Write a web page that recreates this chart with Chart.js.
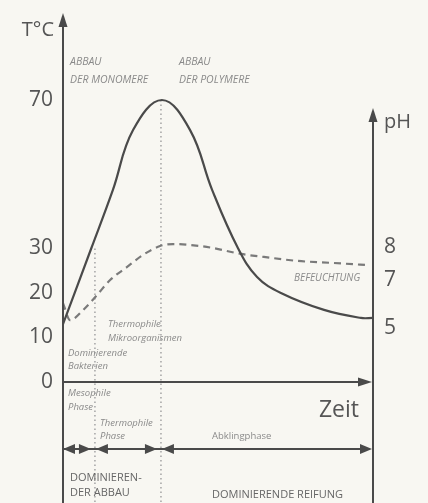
<!DOCTYPE html>
<html>
<head>
<meta charset="utf-8">
<script src="https://cdn.jsdelivr.net/npm/chart.js@4"></script>
<style>
  html, body { margin: 0; padding: 0; background: #f8f7f2; }
  #wrap { width: 428px; height: 503px; }
</style>
</head>
<body>
<div id="wrap"><canvas id="kompost" width="428" height="503"></canvas></div>
<script>
// Zeit (0..100, beliebige Einheit) und Temperatur in °C
const zeitT = [0, 9.1, 16.1, 22.6, 31.9, 41.0, 48.1, 56.5, 62.6, 70.3, 84.2, 96.1, 100];
const temperatur = [13, 30, 45.8, 61.9, 70, 61.9, 45.8, 30, 23.6, 20, 16.2, 14.4, 14.4];

// Zeit und pH-Wert (gestrichelt)
const zeitPH = [0, 2.3, 6.5, 11.0, 15.2, 20.6, 25.8, 31.3, 35.5, 44.2, 48.4, 57.4, 64.8, 75.5, 86.5, 98.7];
const phWert = [6.04, 5.33, 5.75, 6.38, 7.0, 7.39, 7.76, 8.03, 8.09, 8.03, 7.97, 7.79, 7.70, 7.58, 7.52, 7.45];

// Achsenbeschriftungen
const tempTicks = [0, 10, 20, 30, 70];
const phTicks = [5, 7, 8];

// Phasengrenzen auf der Zeitachse (Start, Mesophil/Thermophil, Thermophil/Abkling, Ende)
const phasenGrenzen = [0, 10.3, 31.6, 100];
const grenzenOben = [30, 70]; // bis wohin die gepunkteten Linien reichen (°C)

// Die Skalen sind im Original nicht linear: Stützstellen [Wert, Anteil der Höhe]
const skalenStuetzen = {
  yT: [[0, 0.2469], [30, 0.5194], [70, 0.8224]],
  yPH: [[5, 0.3571], [7, 0.4551], [8, 0.5224]]
};

class PiecewiseScale extends Chart.LinearScale {
  toDecimal(v) {
    const s = skalenStuetzen[this.id];
    let i = 0;
    while (i < s.length - 2 && v > s[i + 1][0]) i++;
    const a = s[i], b = s[i + 1];
    return a[1] + (v - a[0]) * (b[1] - a[1]) / (b[0] - a[0]);
  }
  getPixelForValue(v) {
    return this.getPixelForDecimal(this.toDecimal(v));
  }
  getValueForPixel(p) {
    const d = this.getDecimalForPixel(p);
    const s = skalenStuetzen[this.id];
    let i = 0;
    while (i < s.length - 2 && d > s[i + 1][1]) i++;
    const a = s[i], b = s[i + 1];
    return a[0] + (d - a[1]) * (b[0] - a[0]) / (b[1] - a[1]);
  }
}
PiecewiseScale.id = 'piecewise';
PiecewiseScale.defaults = Chart.LinearScale.defaults;
Chart.register(PiecewiseScale);

const LINIE = '#4a4a4a';
const TEXT = '#555555';
const KLEIN = '#8a8a8a';
const FONT = '"Open Sans", "Noto Sans", sans-serif';

function pfeil(ctx, x, y, richtung, len, halb) {
  ctx.beginPath();
  if (richtung === 'up') {
    ctx.moveTo(x, y); ctx.lineTo(x - halb, y + len); ctx.lineTo(x + halb, y + len);
  } else if (richtung === 'right') {
    ctx.moveTo(x, y); ctx.lineTo(x - len, y - halb); ctx.lineTo(x - len, y + halb);
  } else {
    ctx.moveTo(x, y); ctx.lineTo(x + len, y - halb); ctx.lineTo(x + len, y + halb);
  }
  ctx.closePath();
  ctx.fill();
}

function text(ctx, t, x, y, font, color, align) {
  ctx.font = font;
  ctx.fillStyle = color;
  ctx.textAlign = align || 'left';
  ctx.textBaseline = 'middle';
  ctx.fillText(t, x, y);
}

const achsenPlugin = {
  id: 'achsen',
  beforeDatasetsDraw(chart) {
    const ctx = chart.ctx;
    const xs = chart.scales.x, yT = chart.scales.yT;
    const unten = chart.chartArea.bottom;
    ctx.save();
    ctx.strokeStyle = '#a9a9a9';
    ctx.lineWidth = 1.6;
    ctx.setLineDash([1.5, 3]);
    for (let i = 1; i < phasenGrenzen.length - 1; i++) {
      const px = xs.getPixelForValue(phasenGrenzen[i]);
      ctx.beginPath();
      ctx.moveTo(px, yT.getPixelForValue(grenzenOben[i - 1]));
      ctx.lineTo(px, unten);
      ctx.stroke();
    }
    ctx.restore();
  },
  afterDatasetsDraw(chart) {
    const ctx = chart.ctx;
    const xs = chart.scales.x, yT = chart.scales.yT, yPH = chart.scales.yPH;
    const { left, right, top, bottom } = chart.chartArea;
    const null0 = yT.getPixelForValue(0);
    const phasenY = null0 + 67;
    ctx.save();
    ctx.strokeStyle = LINIE;
    ctx.fillStyle = LINIE;
    ctx.lineWidth = 2;

    // linke Achse (Temperatur)
    ctx.beginPath(); ctx.moveTo(left, top + 8); ctx.lineTo(left, bottom); ctx.stroke();
    pfeil(ctx, left, top, 'up', 14, 4.5);
    // rechte Achse (pH)
    const phTop = 108;
    ctx.beginPath(); ctx.moveTo(right, phTop + 8); ctx.lineTo(right, bottom); ctx.stroke();
    pfeil(ctx, right, phTop, 'up', 14, 4.5);
    // Zeitachse
    ctx.lineWidth = 1.8;
    ctx.beginPath(); ctx.moveTo(left, null0); ctx.lineTo(right - 6, null0); ctx.stroke();
    pfeil(ctx, right - 1, null0, 'right', 14, 4.5);

    // Phasenpfeile
    ctx.beginPath(); ctx.moveTo(left, phasenY); ctx.lineTo(right - 6, phasenY); ctx.stroke();
    for (let i = 0; i < phasenGrenzen.length - 1; i++) {
      const a = xs.getPixelForValue(phasenGrenzen[i]);
      const b = xs.getPixelForValue(phasenGrenzen[i + 1]);
      pfeil(ctx, a + (i === 0 ? 0 : 1), phasenY, 'left', 12, 5);
      pfeil(ctx, b - (i === phasenGrenzen.length - 2 ? 1 : 4), phasenY, 'right', 12, 5);
    }

    // Skalenbeschriftung
    const zahl = '21px ' + FONT;
    tempTicks.forEach(v => text(ctx, String(v), 53, yT.getPixelForValue(v), zahl, TEXT, 'right'));
    phTicks.forEach(v => text(ctx, String(v), 384, yPH.getPixelForValue(v), zahl, TEXT, 'left'));
    text(ctx, 'T°C', 54, 30, '20px ' + FONT, TEXT, 'right');
    text(ctx, 'pH', 384, 122, '20px ' + FONT, TEXT, 'left');
    text(ctx, 'Zeit', 359, 410, '23px ' + FONT, TEXT, 'right');

    // Anmerkungen
    const kursivGross = 'italic 10.5px ' + FONT;
    const kursiv = 'italic 9.5px ' + FONT;
    text(ctx, 'ABBAU', 70, 62, kursivGross, KLEIN);
    text(ctx, 'DER MONOMERE', 70, 80, kursivGross, KLEIN);
    text(ctx, 'ABBAU', 179, 62, kursivGross, KLEIN);
    text(ctx, 'DER POLYMERE', 179, 80, kursivGross, KLEIN);
    text(ctx, 'Thermophile', 108, 324, kursiv, KLEIN);
    text(ctx, 'Mikroorganismen', 108, 338, kursiv, KLEIN);
    text(ctx, 'Dominierende', 68, 353, kursiv, KLEIN);
    text(ctx, 'Bakterien', 68, 366, kursiv, KLEIN);
    text(ctx, 'Mesophile', 68, 393, kursiv, KLEIN);
    text(ctx, 'Phase', 68, 407, kursiv, KLEIN);
    text(ctx, 'Thermophile', 100, 423, kursiv, KLEIN);
    text(ctx, 'Phase', 100, 436, kursiv, KLEIN);
    text(ctx, 'BEFEUCHTUNG', 294, 278, 'italic 10px ' + FONT, KLEIN);
    text(ctx, 'Abklingphase', 212, 436, '9.5px ' + FONT, KLEIN);
    const gross = '11px ' + FONT;
    text(ctx, 'DOMINIEREN-', 70, 478, gross, '#666');
    text(ctx, 'DER ABBAU', 70, 493, gross, '#666');
    text(ctx, 'DOMINIERENDE REIFUNG', 212, 495, gross, '#666');
    ctx.restore();
  }
};

const chart = new Chart(document.getElementById('kompost'), {
  type: 'line',
  data: {
    datasets: [{
      label: 'Temperatur',
      data: zeitT.map((x, i) => ({ x: x, y: temperatur[i] })),
      yAxisID: 'yT',
      borderColor: LINIE,
      borderWidth: 2.2,
      pointRadius: 0,
      tension: 0.4
    }, {
      label: 'pH',
      data: zeitPH.map((x, i) => ({ x: x, y: phWert[i] })),
      yAxisID: 'yPH',
      borderColor: '#7a7a7a',
      borderWidth: 2.2,
      borderDash: [7, 5],
      pointRadius: 0,
      cubicInterpolationMode: 'monotone'
    }]
  },
  options: {
    responsive: false,
    animation: false,
    layout: { padding: { left: 63, right: 55, top: 13, bottom: 0 } },
    plugins: { legend: { display: false }, tooltip: { enabled: false } },
    scales: {
      x: { type: 'linear', min: 0, max: 100, display: false },
      yT: { type: 'piecewise', min: -30, max: 95, display: false },
      yPH: { type: 'piecewise', min: 0, max: 14, display: false }
    }
  },
  plugins: [achsenPlugin]
});
</script>
</body>
</html>
